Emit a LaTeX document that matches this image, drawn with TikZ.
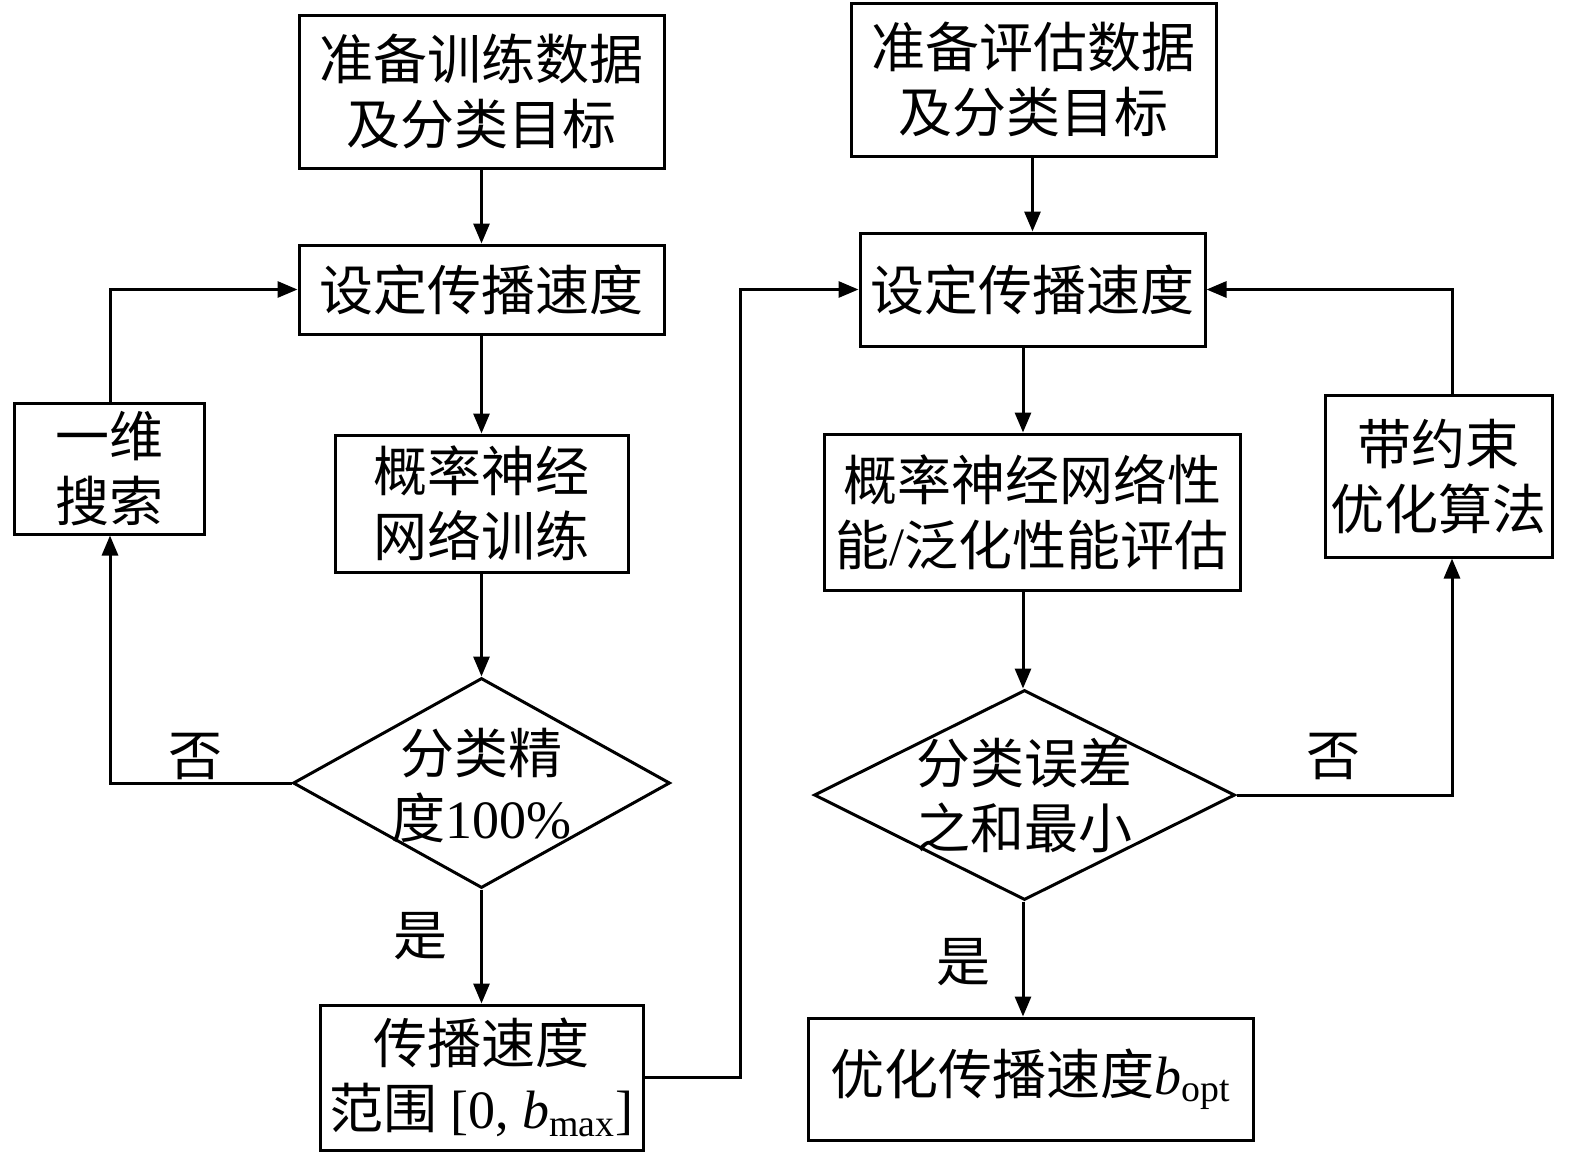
\documentclass[tikz,border=0pt]{standalone}
\usepackage{fontspec}
\setmainfont{Liberation Serif}
\newfontfamily\cjk{Noto Sans CJK SC}
\usetikzlibrary{shapes.geometric,arrows.meta}
\tikzset{
  box/.style={draw, line width=1.5pt, inner sep=0pt, align=center, font=\cjk\fontsize{27}{32.5}\selectfont},
  dia/.style={draw, diamond, line width=1.5pt, inner sep=0pt},
  txt/.style={inner sep=0pt, align=center, font=\cjk\fontsize{27}{32.5}\selectfont},
  conn/.style={line width=1.5pt, -{Triangle[length=10pt,width=8pt]}},
  line/.style={line width=1.5pt}
}
\begin{document}
\begin{tikzpicture}[x=0.5pt,y=-0.5pt]
\useasboundingbox (0,0) rectangle (1575,1163);
% left column
\node[box, minimum width=182.5pt, minimum height=76.5pt] (a) at (481.5,91.5) {准备训练数据\\及分类目标};
\node[box, minimum width=182.5pt, minimum height=44.5pt] (b) at (481.5,289.5) {设定传播速度};
\node[box, minimum width=146.5pt, minimum height=68.5pt] (c) at (481.5,503.5) {概率神经\\网络训练};
\node[dia, minimum width=188.5pt, minimum height=105pt] (d1) at (481.5,783) {};
\node[txt] (d1t) at (481.5,785) {分类精\\{\cjk 度}{\rmfamily 100\%}};
\node[box, minimum width=161.5pt, minimum height=72.5pt] (e) at (481.5,1077.5) {传播速度\\{\cjk 范围} {\rmfamily [0, \textit{b}\textsubscript{max}]}};
\node[box, minimum width=95pt, minimum height=65.5pt] (f) at (109.5,468.5) {一维\\搜索};
% right column
\node[box, minimum width=182.5pt, minimum height=76.5pt] (g) at (1033.5,79.5) {准备评估数据\\及分类目标};
\node[box, minimum width=172.5pt, minimum height=56.5pt] (h) at (1032.5,289.5) {设定传播速度};
\node[box, minimum width=208pt, minimum height=78pt] (i) at (1032,512) {概率神经网络性\\能{\rmfamily /}泛化性能评估};
\node[dia, minimum width=210.5pt, minimum height=105pt] (d2) at (1024.5,795) {};
\node[txt] (d2t) at (1024.5,795) {分类误差\\之和最小};
\node[box, minimum width=222.5pt, minimum height=61pt] (j) at (1030.5,1079) {优化传播速度{\rmfamily \textit{b}\textsubscript{opt}}};
\node[box, minimum width=113.5pt, minimum height=81pt] (k) at (1438.5,476) {带约束\\优化算法};
% helper coordinates
\coordinate (fx) at (110,0);
\coordinate (ex) at (740,289.5);
\coordinate (kx) at (1452,0);
\coordinate (hx) at (1023,0);
% labels
\node[txt] (no1) at (195,757) {否};
\node[txt] (yes1) at (420,936) {是};
\node[txt] (no2) at (1333,757) {否};
\node[txt] (yes2) at (963,962) {是};
% connectors left
\draw[conn] (a.south) -- (b.north);
\draw[conn] (b.south) -- (c.north);
\draw[conn] (c.south) -- (d1.north);
\draw[conn] (d1.south) -- (e.north);
\draw[conn] (d1.west) -| (f.south -| fx);
\draw[conn] (f.north -| fx) |- (b.west);
\draw[conn] (e.east) -| (ex) -- (h.west);
% connectors right
\draw[conn] (g.south -| h.north) -- (h.north);
\draw[conn] (h.south -| hx) -- (i.north -| hx);
\draw[conn] (i.south -| hx) -- (d2.north -| hx);
\draw[conn] (d2.south -| hx) -- (j.north -| hx);
\draw[conn] (d2.east) -| (k.south -| kx);
\draw[conn] (k.north -| kx) |- (h.east);
\end{tikzpicture}
\end{document}
